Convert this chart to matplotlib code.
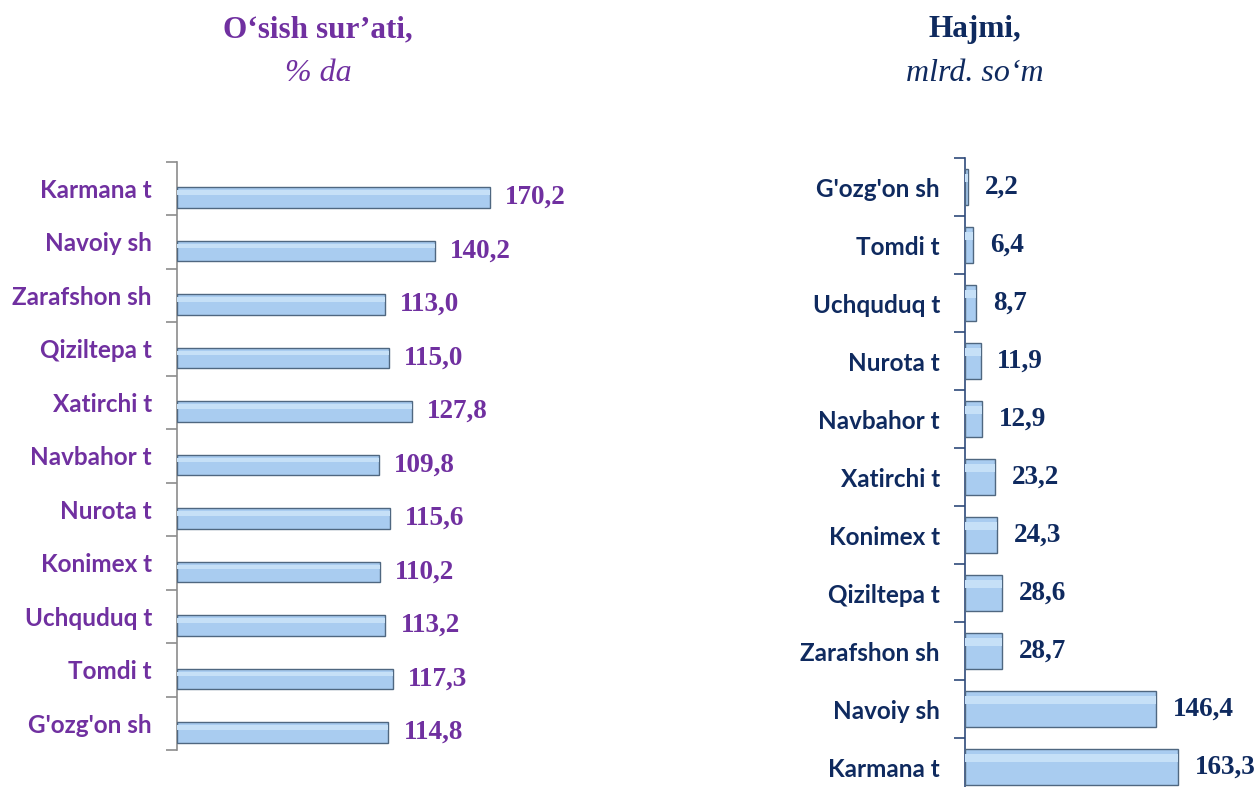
import matplotlib
matplotlib.use("Agg")
import matplotlib.pyplot as plt
import numpy as np

# ── data ─────────────────────────────────────────────────────────────────────
GROWTH_LABELS = ["Karmana t", "Navoiy sh", "Zarafshon sh", "Qiziltepa t", "Xatirchi t",
                 "Navbahor t", "Nurota t", "Konimex t", "Uchquduq t", "Tomdi t", "G'ozg'on sh"]
GROWTH_VALUES = [170.2, 140.2, 113.0, 115.0, 127.8, 109.8, 115.6, 110.2, 113.2, 117.3, 114.8]

VOLUME_LABELS = ["G'ozg'on sh", "Tomdi t", "Uchquduq t", "Nurota t", "Navbahor t",
                 "Xatirchi t", "Konimex t", "Qiziltepa t", "Zarafshon sh", "Navoiy sh", "Karmana t"]
VOLUME_VALUES = [2.2, 6.4, 8.7, 11.9, 12.9, 23.2, 24.3, 28.6, 28.7, 146.4, 163.3]

PURPLE = "#7030A0"
NAVY = "#0F2A5F"
BAR_FACE = "#A9CCF0"
BAR_EDGE = "#4F6780"

SANS = ["Lato", "DejaVu Sans"]
SERIF = ["Liberation Serif", "DejaVu Serif"]


def fmt(v):
    return f"{v:.1f}".replace(".", ",")


def draw_panel(ax, labels, values, color, spine_color, bar_h, bar_shift, label_off):
    n = len(labels)
    y = np.arange(n)
    ax.barh(y + bar_shift, values, height=bar_h, color=BAR_FACE,
            edgecolor=BAR_EDGE, linewidth=1.0, zorder=3)
    # soft highlight near the top for the bevel look
    ax.barh(y + bar_shift - bar_h * 0.25, values, height=bar_h * 0.22,
            color="#C6E0F7", linewidth=0, zorder=4)
    for yi, v in zip(y, values):
        ax.annotate(fmt(v), (v, yi + bar_shift), xytext=(label_off, 0),
                    textcoords="offset points", va="center", ha="left",
                    fontsize=19.5, fontweight="bold", family=SERIF, color=color,
                    annotation_clip=False, clip_on=False)
    ax.set_ylim(n - 0.5, -0.5)
    ax.set_xlim(0, 200)
    ax.set_yticks(y)
    ax.set_yticklabels(labels, fontsize=17.5, fontweight="bold", family=SANS, color=color)
    ax.set_yticks(np.arange(n + 1) - 0.5, minor=True)
    ax.tick_params(axis="y", which="major", length=0, pad=18)
    ax.tick_params(axis="y", which="minor", length=8, color=spine_color, width=1.2)
    ax.set_xticks([])
    for s in ["top", "right", "bottom"]:
        ax.spines[s].set_visible(False)
    ax.spines["left"].set_color(spine_color)
    ax.spines["left"].set_linewidth(1.2)
    ax.set_facecolor("none")


fig = plt.figure(figsize=(12.55, 7.87), dpi=100)

ax1 = fig.add_axes([0.1410, 0.0470, 0.2932, 0.7475])
draw_panel(ax1, GROWTH_LABELS, GROWTH_VALUES, PURPLE, "#8C8C8C",
           bar_h=0.38, bar_shift=0.17, label_off=11)

ax2 = fig.add_axes([0.7689, -0.0115, 0.2083, 0.8107])
draw_panel(ax2, VOLUME_LABELS, VOLUME_VALUES, NAVY, "#2F4A7A",
           bar_h=0.63, bar_shift=0.0, label_off=12)

fig.text(0.2534, 0.962, "O‘sish sur’ati,", ha="center", va="center",
         fontsize=22.5, fontweight="bold", family=SERIF, color=PURPLE)
fig.text(0.2534, 0.907, "% da", ha="center", va="center",
         fontsize=23, style="italic", family=SERIF, color=PURPLE)
fig.text(0.7769, 0.962, "Hajmi,", ha="center", va="center",
         fontsize=22.5, fontweight="bold", family=SERIF, color=NAVY)
fig.text(0.7769, 0.907, "mlrd. so‘m", ha="center", va="center",
         fontsize=23, style="italic", family=SERIF, color=NAVY)

fig.savefig("out.png", dpi=100)
